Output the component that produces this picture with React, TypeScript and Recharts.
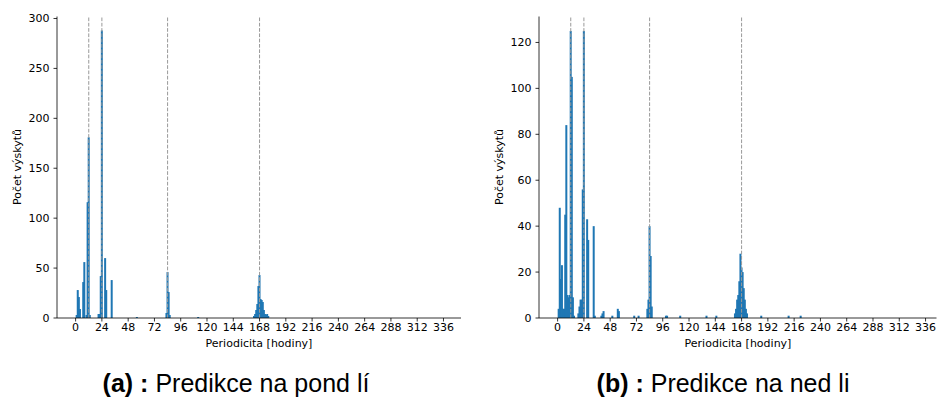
import { Bar, BarChart, ReferenceLine, XAxis, YAxis } from "recharts";

// periodicity histogram, monday (a) and sunday (b) predictions
const X_TICKS = [0, 24, 48, 72, 96, 120, 144, 168, 192, 216, 240, 264, 288, 312, 336];
const PERIOD_MARKS = [12, 24, 84, 168];

const MON_HOURS = [1, 2, 3, 4, 7, 8, 10, 11, 12, 13, 21, 22, 23, 24, 27, 28, 33, 56, 83, 84, 85, 86, 112, 163, 164, 165, 166, 167, 168, 169, 170, 171, 172, 173, 174, 175, 176];
const MON_COUNTS = [3, 28, 21, 9, 36, 56, 3, 116, 181, 3, 4, 4, 42, 288, 60, 28, 38, 1, 5, 46, 26, 3, 1, 2, 4, 8, 14, 32, 43, 19, 18, 16, 8, 4, 3, 4, 2];
const MON_Y_TICKS = [0, 50, 100, 150, 200, 250, 300];

const SUN_HOURS = [1, 2, 3, 4, 5, 6, 7, 8, 9, 10, 11, 12, 13, 14, 15, 19, 20, 21, 22, 23, 24, 27, 28, 33, 34, 40, 41, 42, 50, 55, 56, 70, 74, 82, 83, 84, 85, 86, 99, 100, 112, 136, 145, 162, 163, 164, 165, 166, 167, 168, 169, 170, 171, 172, 173, 186, 211, 222];
const SUN_COUNTS = [4, 48, 17, 23, 4, 4, 45, 84, 10, 9, 10, 125, 105, 9, 1, 2, 5, 8, 8, 56, 125, 43, 34, 40, 1, 1, 2, 3, 1, 4, 3, 1, 1, 4, 8, 40, 27, 5, 1, 1, 1, 1, 1, 2, 4, 8, 10, 16, 28, 22, 20, 13, 8, 4, 2, 1, 1, 1];
const SUN_Y_TICKS = [0, 20, 40, 60, 80, 100, 120];

const BLUE = "#1f77b4";
const TICK_FONT = { fontSize: 11, fill: "#000", fontFamily: "DejaVu Sans" };
const LABEL_FONT = "DejaVu Sans";

type PanelProps = {
  hours: number[];
  counts: number[];
  yTicks: number[];
  yMax: number;
  xMax: number;
  left: number;
  width: number;
  rightMargin: number;
};

// histogram bins are ~1.1px wide; draw them a touch wider so they read as solid
const HistBar = (props: any) => {
  const { x, y, width, height, fill } = props;
  if (!height || height <= 0) return <g />;
  const cx = x + width / 2;
  const w = 2;
  return <rect x={cx - w / 2} y={y} width={w} height={height} fill={fill} />;
};

function Panel({ hours, counts, yTicks, yMax, xMax, left, width, rightMargin }: PanelProps) {
  const data = hours.map((h, i) => ({ h, count: counts[i] }));
  const xDomain = [-17, xMax];
  return (
    <div style={{ position: "absolute", left, top: 0 }}>
      <BarChart
        width={width}
        height={360}
        data={data}
        barCategoryGap={0}
        margin={{ top: 16.5, right: rightMargin, bottom: 12, left: 17 }}
      >
        <XAxis
          dataKey="h"
          type="number"
          domain={xDomain}
          allowDataOverflow
          ticks={X_TICKS}
          interval={0}
          height={30}
          tickSize={3.5}
          tickMargin={2}
          tick={TICK_FONT}
          axisLine={{ stroke: "#000", strokeWidth: 0.8 }}
          tickLine={{ stroke: "#000", strokeWidth: 0.8 }}
        />
        <XAxis
          xAxisId="top"
          orientation="top"
          type="number"
          domain={xDomain}
          allowDataOverflow
          height={0}
          tick={false}
          tickLine={false}
          axisLine={{ stroke: "#000", strokeWidth: 0.8 }}
        />
        <YAxis
          type="number"
          domain={[0, yMax]}
          allowDataOverflow
          ticks={yTicks}
          interval={0}
          width={40}
          tickSize={3.5}
          tickMargin={4}
          tick={TICK_FONT}
          axisLine={{ stroke: "#000", strokeWidth: 0.8 }}
          tickLine={{ stroke: "#000", strokeWidth: 0.8 }}
        />
        <YAxis
          yAxisId="right"
          orientation="right"
          type="number"
          domain={[0, yMax]}
          width={0}
          tick={false}
          tickLine={false}
          axisLine={{ stroke: "#000", strokeWidth: 0.8 }}
        />
        <Bar dataKey="count" fill={BLUE} isAnimationActive={false} shape={HistBar} />
        {PERIOD_MARKS.map((p) => (
          <ReferenceLine key={p} x={p} stroke="#999" strokeWidth={1} strokeDasharray="3.7 1.6" />
        ))}
      </BarChart>
    </div>
  );
}

const textBase = { position: "absolute" as const, fontFamily: LABEL_FONT, fontSize: 11, color: "#000", whiteSpace: "nowrap" as const };

function YLabel({ x, y }: { x: number; y: number }) {
  return (
    <div style={{ ...textBase, left: x, top: y, transform: "translate(-50%, -50%) rotate(-90deg)" }}>Počet výskytů</div>
  );
}

function XLabel({ x, y }: { x: number; y: number }) {
  return <div style={{ ...textBase, left: x, top: y, transform: "translate(-50%, -50%)" }}>Periodicita [hodiny]</div>;
}

function Caption({ x, tag, text }: { x: number; tag: string; text: string }) {
  return (
    <div
      style={{
        position: "absolute",
        left: x,
        top: 383,
        transform: "translate(-50%, -50%)",
        fontFamily: "'Liberation Sans', Arial, sans-serif",
        fontSize: 25,
        color: "#000",
        whiteSpace: "pre",
      }}
    >
      <b>{tag} :</b> {text}
    </div>
  );
}

export default function App() {
  return (
    <div style={{ position: "absolute", left: 0, top: 0, width: 938, height: 401, background: "#fff", overflow: "hidden" }}>
      <Panel hours={MON_HOURS} counts={MON_COUNTS} yTicks={MON_Y_TICKS} yMax={302} xMax={352} left={0} width={470} rightMargin={9} />
      <Panel hours={SUN_HOURS} counts={SUN_COUNTS} yTicks={SUN_Y_TICKS} yMax={131.3} xMax={346} left={482} width={456} rightMargin={1.5} />
      <YLabel x={17} y={167} />
      <XLabel x={259} y={343} />
      <YLabel x={499} y={167} />
      <XLabel x={738} y={343} />
      <Caption x={236} tag="(a)" text="Predikce na pond lí" />
      <Caption x={723} tag="(b)" text="Predikce na ned li" />
    </div>
  );
}
